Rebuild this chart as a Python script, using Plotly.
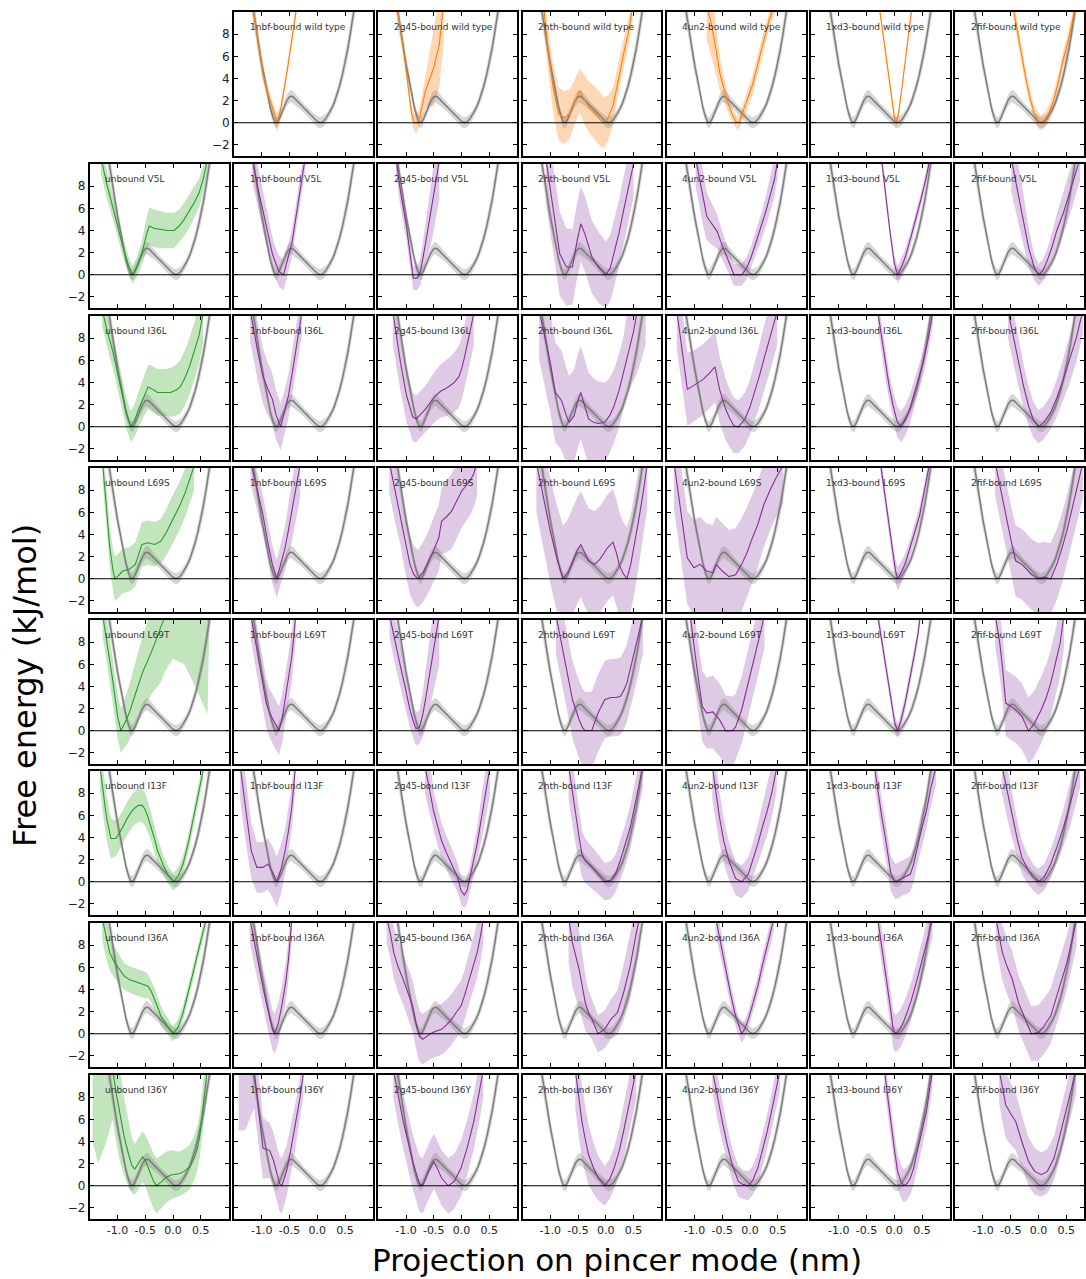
import plotly.graph_objects as go

# ---------------- data ----------------
COMPLEXES = ["unbound", "1nbf-bound", "2g45-bound", "2hth-bound", "4un2-bound", "1xd3-bound", "2fif-bound"]
VARIANTS = ["wild type", "V5L", "I36L", "L69S", "L69T", "I13F", "I36A", "I36Y"]

X_TICKS = [-1.0, -0.5, 0.0, 0.5]
X_TICKTEXT = ["-1.0", "-0.5", "0.0", "0.5"]
Y_TICKS = [-2, 0, 2, 4, 6, 8]

# reference: unbound wild type (grey)
REF_X = [-1.18, -1.15, -1.10, -1.05, -1.00, -0.95, -0.90, -0.85, -0.80, -0.76, -0.72, -0.68, -0.64, -0.60,
         -0.55, -0.50, -0.47, -0.44, -0.40, -0.35, -0.30, -0.25, -0.20, -0.15, -0.10, -0.05, 0.00, 0.05,
         0.10, 0.15, 0.20, 0.25, 0.30, 0.35, 0.40, 0.45, 0.50, 0.55, 0.60, 0.65, 0.70]
REF_Y = [11.0, 10.0, 8.3, 6.8, 5.3, 4.0, 2.6, 1.4, 0.5, 0.05, 0.05, 0.4, 0.9, 1.4,
         2.0, 2.35, 2.4, 2.35, 2.15, 1.85, 1.6, 1.35, 1.1, 0.85, 0.6, 0.35, 0.12, 0.0,
         0.1, 0.35, 0.75, 1.2, 1.75, 2.45, 3.3, 4.3, 5.4, 6.7, 8.2, 9.8, 11.5]
REF_E = [1.2, 1.1, 1.0, 0.9, 0.8, 0.7, 0.6, 0.5, 0.5, 0.5, 0.5, 0.5, 0.45, 0.45,
         0.5, 0.55, 0.55, 0.55, 0.5, 0.45, 0.4, 0.4, 0.4, 0.4, 0.4, 0.45, 0.5, 0.5,
         0.5, 0.45, 0.4, 0.4, 0.45, 0.5, 0.6, 0.7, 0.8, 0.9, 1.0, 1.1, 1.2]

# each entry: (projection values, free energy, half-width of the band)
WILD_TYPE = {
    "1nbf-bound": ([-1.16, -1.05, -0.98, -0.90, -0.82, -0.76, -0.72, -0.66, -0.60, -0.54, -0.48, -0.42, -0.37],
                   [10.5, 6.5, 4.4, 2.8, 1.5, 0.5, 0.0, 1.2, 2.9, 4.8, 6.8, 8.8, 10.5],
                   [0.8, 0.8, 0.7, 0.6, 0.6, 0.7, 0.8, 0.6, 0.5, 0.5, 0.5, 0.5, 0.5]),
    "2g45-bound": ([-1.16, -1.05, -0.95, -0.90, -0.85, -0.80, -0.75, -0.65, -0.57, -0.50, -0.40, -0.35, -0.32],
                   [10.5, 6.8, 2.8, 0.8, 0.0, 0.0, 0.6, 2.9, 4.0, 5.0, 7.1, 9.8, 11.0],
                   [0.6, 0.6, 0.6, 0.7, 0.8, 0.8, 0.8, 1.5, 2.5, 3.5, 4.0, 4.0, 4.0]),
    "2hth-bound": ([-1.12, -1.05, -0.95, -0.85, -0.75, -0.65, -0.55, -0.47, -0.40, -0.30, -0.20, -0.10, -0.03,
                    0.05, 0.14, 0.24, 0.32, 0.40, 0.48],
                   [10.5, 7.0, 3.2, 0.8, 0.45, 0.8, 2.0, 2.9, 2.2, 1.4, 0.9, 0.3, 0.0,
                    0.5, 1.7, 4.4, 6.2, 8.0, 10.3],
                   [1.5, 1.8, 2.2, 2.4, 2.4, 2.2, 2.0, 2.0, 2.2, 2.3, 2.4, 2.4, 2.3,
                    2.0, 1.6, 1.4, 1.2, 1.2, 1.2]),
    "4un2-bound": ([-0.78, -0.70, -0.64, -0.54, -0.46, -0.39, -0.31, -0.25, -0.20, -0.10, 0.05, 0.20, 0.34, 0.45],
                   [10.5, 9.0, 7.4, 4.4, 2.9, 1.7, 0.6, 0.1, 0.0, 1.4, 3.5, 6.5, 9.2, 10.8],
                   [3.0, 3.0, 2.5, 1.5, 1.0, 0.8, 0.6, 0.6, 0.6, 0.8, 0.9, 0.9, 0.9, 0.9]),
    "1xd3-bound": ([-0.27, -0.20, -0.13, -0.06, 0.0, 0.03, 0.07, 0.13, 0.20, 0.27, 0.32],
                   [10.5, 8.0, 5.3, 2.6, 0.6, 0.0, 0.6, 2.8, 5.6, 8.5, 10.5],
                   [0.4, 0.4, 0.4, 0.4, 0.45, 0.45, 0.45, 0.4, 0.4, 0.4, 0.4]),
    "2fif-bound": ([-0.46, -0.38, -0.30, -0.22, -0.15, -0.08, 0.0, 0.05, 0.12, 0.20, 0.27, 0.35, 0.44, 0.54, 0.66],
                   [10.5, 8.2, 5.9, 3.8, 2.2, 0.9, 0.15, 0.0, 0.3, 1.0, 2.0, 3.5, 5.6, 7.5, 10.3],
                   [0.8, 0.8, 0.8, 0.75, 0.7, 0.7, 0.7, 0.7, 0.7, 0.7, 0.7, 0.75, 0.8, 0.8, 0.8]),
}

V5L = {
    "unbound": ([-1.30, -1.20, -1.06, -0.91, -0.80, -0.73, -0.65, -0.56, -0.48, -0.43, -0.35, -0.25, -0.10, 0.02,
                 0.11, 0.20, 0.29, 0.38, 0.47, 0.55, 0.62],
                [10.6, 8.3, 5.6, 2.6, 0.8, 0.0, 0.7, 2.0, 3.6, 4.4, 4.2, 4.1, 4.0, 4.0,
                 4.4, 5.0, 5.7, 6.5, 7.4, 8.8, 10.4],
                [1.5, 1.3, 1.0, 0.9, 0.8, 0.8, 0.9, 1.1, 1.5, 1.7, 1.7, 1.7, 1.6, 1.6,
                 1.5, 1.5, 1.5, 1.4, 1.3, 1.2, 1.2]),
    "1nbf-bound": ([-1.17, -1.08, -0.98, -0.89, -0.81, -0.74, -0.69, -0.61, -0.54, -0.46, -0.40, -0.35, -0.29, -0.22],
                   [10.5, 8.0, 5.8, 3.6, 1.9, 0.9, 0.3, 0.0, 1.2, 2.8, 4.7, 6.4, 8.2, 10.5],
                   [2.2, 2.0, 1.8, 1.6, 1.5, 1.4, 1.4, 1.4, 1.3, 1.2, 1.2, 1.2, 1.2, 1.2]),
    "2g45-bound": ([-1.18, -1.10, -0.99, -0.91, -0.87, -0.80, -0.74, -0.65, -0.59, -0.53, -0.47, -0.40],
                   [10.5, 7.5, 4.3, 1.3, -0.3, -0.3, 0.3, 2.8, 4.6, 6.4, 8.2, 10.3],
                   [1.5, 1.4, 1.3, 1.2, 1.1, 1.1, 1.2, 1.8, 2.6, 3.2, 3.5, 3.5]),
    "2hth-bound": ([-1.08, -0.94, -0.83, -0.71, -0.60, -0.52, -0.45, -0.37, -0.25, -0.12, 0.0, 0.08, 0.15,
                    0.24, 0.32, 0.41, 0.50],
                   [10.5, 5.8, 1.9, 0.7, 0.7, 3.0, 4.6, 3.6, 1.6, 0.6, 0.0, 0.6, 1.9,
                    3.8, 5.8, 7.8, 10.0],
                   [4.0, 4.0, 3.8, 3.5, 3.4, 3.4, 3.4, 3.4, 3.3, 3.2, 3.0, 3.0, 3.0,
                    3.0, 3.0, 3.0, 3.0]),
    "4un2-bound": ([-0.98, -0.90, -0.84, -0.78, -0.73, -0.66, -0.59, -0.52, -0.44, -0.36, -0.29, -0.22, -0.15,
                    -0.06, 0.02, 0.10, 0.20, 0.29, 0.37, 0.44, 0.50],
                   [10.5, 8.5, 6.7, 5.3, 4.9, 4.4, 3.9, 2.9, 1.9, 0.9, 0.0, 0.0, 0.0,
                    0.6, 1.6, 2.8, 4.3, 5.8, 7.3, 8.6, 10.4],
                   [2.5, 2.5, 2.4, 2.2, 2.0, 1.8, 1.5, 1.3, 1.1, 1.0, 1.0, 1.0, 1.0,
                    1.0, 1.0, 1.1, 1.2, 1.4, 1.5, 1.6, 1.6]),
    "1xd3-bound": ([-0.23, -0.15, -0.08, 0.0, 0.06, 0.12, 0.20, 0.30, 0.40, 0.50, 0.58, 0.64],
                   [10.5, 7.0, 4.0, 1.1, 0.0, 0.6, 1.6, 3.4, 5.2, 7.2, 8.9, 10.4],
                   [0.6, 0.6, 0.6, 0.7, 0.8, 0.8, 0.7, 0.6, 0.6, 0.6, 0.6, 0.6]),
    "2fif-bound": ([-0.49, -0.40, -0.30, -0.18, -0.08, 0.0, 0.08, 0.16, 0.25, 0.33, 0.45, 0.56, 0.66, 0.75],
                   [10.5, 8.2, 5.8, 2.5, 0.7, 0.0, 0.4, 1.3, 2.6, 4.0, 5.6, 7.3, 8.9, 10.5],
                   [3.0, 2.8, 2.4, 1.8, 1.2, 1.0, 1.0, 1.1, 1.3, 1.5, 1.8, 2.0, 2.0, 2.0]),
}

I36L = {
    "unbound": ([-1.28, -1.18, -1.08, -0.99, -0.91, -0.84, -0.76, -0.69, -0.62, -0.53, -0.45, -0.37, -0.28,
                 -0.15, -0.05, 0.05, 0.13, 0.22, 0.30, 0.38, 0.47, 0.54],
                [10.6, 8.5, 6.7, 4.6, 2.8, 1.2, 0.0, 0.6, 1.6, 2.7, 3.6, 3.4, 3.1,
                 3.1, 3.1, 3.3, 3.6, 4.5, 5.5, 6.8, 8.3, 10.2],
                [1.5, 1.5, 1.5, 1.4, 1.4, 1.4, 1.4, 1.5, 1.6, 1.8, 2.0, 2.1, 2.1,
                 2.1, 2.2, 2.3, 2.4, 2.5, 2.6, 2.6, 2.6, 2.6]),
    "1nbf-bound": ([-1.21, -1.14, -1.07, -0.98, -0.90, -0.81, -0.74, -0.66, -0.59, -0.52, -0.46, -0.40, -0.34, -0.28],
                   [10.5, 8.5, 6.7, 4.6, 3.5, 2.5, 1.0, 0.0, 1.3, 2.8, 4.6, 6.4, 8.3, 10.3],
                   [2.8, 2.7, 2.6, 2.5, 2.4, 2.3, 2.2, 2.1, 2.0, 2.0, 2.0, 2.0, 2.0, 2.0]),
    "2g45-bound": ([-1.24, -1.17, -1.10, -0.99, -0.88, -0.82, -0.74, -0.65, -0.56, -0.47, -0.38, -0.30, -0.21,
                    -0.13, -0.05, 0.0, 0.05, 0.10, 0.16, 0.22],
                   [10.5, 8.2, 5.8, 2.8, 0.9, 0.7, 1.1, 1.6, 2.2, 2.8, 3.2, 3.4, 3.7,
                    4.0, 4.5, 5.2, 6.2, 7.3, 8.6, 10.2],
                   [3.0, 2.8, 2.6, 2.4, 2.2, 2.1, 2.1, 2.1, 2.2, 2.3, 2.4, 2.5, 2.6,
                    2.7, 2.8, 2.8, 2.8, 2.8, 2.8, 2.8]),
    "2hth-bound": ([-1.20, -1.10, -1.00, -0.91, -0.80, -0.71, -0.66, -0.57, -0.50, -0.45, -0.38, -0.31, -0.22,
                    -0.14, -0.02, 0.07, 0.15, 0.24, 0.32, 0.41, 0.50, 0.56, 0.64, 0.72],
                   [10.5, 8.0, 5.8, 3.1, 2.4, 1.0, 0.4, 1.0, 2.4, 3.1, 1.8, 0.7, 0.4,
                    0.3, 0.4, 1.0, 1.9, 3.3, 4.9, 6.8, 8.6, 10.3, 12.5, 15.0],
                   [4.5, 4.5, 4.5, 4.5, 4.5, 4.3, 4.2, 4.2, 4.2, 4.2, 4.2, 4.2, 4.0,
                    3.8, 3.6, 3.4, 3.3, 3.3, 3.3, 3.6, 4.5, 5.5, 6.5, 7.5]),
    "4un2-bound": ([-1.32, -1.25, -1.19, -1.13, -1.05, -0.95, -0.84, -0.74, -0.67, -0.63, -0.55, -0.44, -0.36,
                    -0.29, -0.21, -0.09, 0.0, 0.08, 0.17, 0.25, 0.34, 0.43, 0.49],
                   [10.5, 8.0, 5.8, 3.4, 3.6, 3.9, 4.3, 4.8, 5.2, 5.4, 3.4, 1.6, 0.7,
                    0.1, 0.0, 0.7, 1.8, 3.1, 4.6, 6.1, 7.7, 9.2, 10.4],
                   [3.5, 3.5, 3.4, 3.3, 3.2, 3.2, 3.2, 3.2, 3.2, 3.2, 3.0, 2.8, 2.6,
                    2.5, 2.4, 2.4, 2.5, 2.6, 2.8, 3.0, 3.0, 3.0, 3.0]),
    "1xd3-bound": ([-0.30, -0.23, -0.17, -0.09, -0.02, 0.05, 0.12, 0.20, 0.28, 0.35, 0.44, 0.52, 0.61, 0.70],
                   [10.5, 8.2, 5.8, 3.6, 1.9, 0.5, 0.0, 0.6, 1.6, 2.8, 4.3, 5.8, 7.9, 10.5],
                   [1.2, 1.2, 1.2, 1.2, 1.3, 1.4, 1.4, 1.4, 1.3, 1.2, 1.2, 1.2, 1.2, 1.2]),
    "2fif-bound": ([-0.55, -0.45, -0.36, -0.27, -0.18, -0.09, 0.0, 0.10, 0.22, 0.33, 0.45, 0.56, 0.68, 0.80],
                   [10.5, 8.0, 5.8, 3.7, 1.9, 0.6, 0.0, 0.4, 1.3, 2.6, 4.3, 6.0, 8.0, 10.5],
                   [2.5, 2.4, 2.2, 2.0, 1.8, 1.6, 1.5, 1.5, 1.5, 1.7, 1.9, 2.1, 2.2, 2.2]),
}

L69S = {
    "unbound": ([-1.27, -1.20, -1.14, -1.08, -1.05, -0.98, -0.91, -0.79, -0.68, -0.62, -0.56, -0.45, -0.33,
                 -0.22, -0.13, -0.05, 0.04, 0.13, 0.22, 0.30, 0.38],
                [10.5, 6.5, 2.8, 0.7, 0.0, 0.3, 0.7, 0.85, 1.3, 2.2, 3.1, 3.25, 3.1,
                 3.4, 4.1, 4.9, 5.8, 6.7, 7.8, 8.9, 10.2],
                [1.8, 1.8, 1.8, 1.9, 2.0, 2.0, 2.0, 2.0, 2.0, 2.0, 2.0, 2.0, 2.0,
                 2.0, 2.1, 2.2, 2.2, 2.2, 2.2, 2.2, 2.2]),
    "1nbf-bound": ([-1.20, -1.09, -0.98, -0.90, -0.81, -0.73, -0.66, -0.58, -0.52, -0.46, -0.39, -0.31],
                   [10.5, 8.0, 5.8, 3.5, 1.3, 0.0, 1.3, 2.8, 4.4, 6.1, 8.1, 10.3],
                   [2.0, 1.8, 1.7, 1.7, 1.7, 1.7, 1.8, 2.0, 2.4, 2.8, 3.0, 3.0]),
    "2g45-bound": ([-1.30, -1.20, -1.10, -1.02, -0.93, -0.86, -0.79, -0.69, -0.59, -0.50, -0.41, -0.36, -0.27,
                    -0.18, -0.09, 0.0, 0.08, 0.16, 0.22, 0.28],
                   [10.5, 8.0, 5.8, 3.5, 1.3, 0.4, 0.0, 0.6, 1.6, 2.6, 3.7, 5.2, 5.6,
                    6.1, 7.0, 7.9, 8.4, 8.9, 9.5, 10.5],
                   [2.8, 2.8, 2.8, 2.8, 2.7, 2.6, 2.6, 2.7, 2.8, 2.9, 3.0, 3.0, 3.2,
                    3.4, 3.4, 3.3, 3.2, 3.1, 3.0, 3.0]),
    "2hth-bound": ([-1.25, -1.12, -1.00, -0.88, -0.77, -0.68, -0.60, -0.52, -0.45, -0.38, -0.31, -0.20, -0.10,
                    0.03, 0.13, 0.20, 0.24, 0.31, 0.38, 0.45, 0.52, 0.60, 0.68, 0.75],
                   [10.5, 7.2, 4.3, 1.8, 0.0, 0.6, 1.5, 2.5, 3.1, 2.3, 1.6, 1.3, 1.8,
                    2.8, 3.3, 2.2, 1.3, 0.5, 0.0, 1.3, 3.2, 5.5, 8.0, 10.5],
                   [4.5, 4.6, 4.7, 4.8, 4.8, 4.8, 4.8, 4.8, 4.8, 4.8, 4.8, 4.8, 4.8,
                    4.8, 4.8, 4.8, 4.8, 4.7, 4.6, 4.5, 4.4, 4.2, 4.0, 4.0]),
    "4un2-bound": ([-1.37, -1.30, -1.24, -1.18, -1.13, -1.01, -0.90, -0.78, -0.67, -0.61, -0.50, -0.38, -0.26,
                    -0.15, -0.05, 0.02, 0.14, 0.25, 0.37, 0.48, 0.60],
                   [10.5, 8.0, 5.8, 3.8, 1.9, 1.0, 1.3, 0.7, 0.55, 1.3, 0.7, 0.2, 0.35,
                    1.3, 2.4, 3.4, 4.9, 6.7, 8.1, 9.2, 10.3],
                   [4.2, 4.2, 4.2, 4.2, 4.2, 4.3, 4.3, 4.3, 4.3, 4.3, 4.3, 4.2, 4.2,
                    4.2, 4.1, 4.0, 3.9, 3.8, 3.6, 3.5, 3.5]),
    "1xd3-bound": ([-0.25, -0.17, -0.10, -0.03, 0.02, 0.06, 0.12, 0.20, 0.30, 0.38, 0.46, 0.55, 0.64],
                   [10.5, 7.5, 4.8, 2.4, 0.8, 0.0, 0.5, 1.4, 3.0, 4.4, 5.8, 8.0, 10.5],
                   [0.8, 0.8, 0.8, 0.9, 1.0, 1.1, 1.0, 0.9, 0.8, 0.8, 0.8, 0.8, 0.8]),
    "2fif-bound": ([-0.78, -0.68, -0.59, -0.50, -0.41, -0.30, -0.20, -0.13, 0.0, 0.10, 0.22, 0.33, 0.42, 0.51,
                    0.60, 0.68, 0.80],
                   [10.5, 8.0, 5.8, 3.6, 1.6, 1.3, 0.8, 0.4, 0.0, 0.15, 0.0, 1.3, 2.7, 4.3,
                    6.2, 8.0, 10.5],
                   [3.0, 3.0, 3.0, 3.1, 3.2, 3.2, 3.2, 3.2, 3.2, 3.2, 3.2, 3.2, 3.2, 3.2,
                    3.2, 3.2, 3.2]),
}

L69T = {
    "unbound": ([-1.27, -1.17, -1.08, -1.00, -0.94, -0.86, -0.79, -0.70, -0.62, -0.54, -0.45, -0.36, -0.28,
                 -0.22, -0.15, 0.0, 0.20, 0.40, 0.62, 0.66],
                [10.5, 7.4, 4.3, 1.3, 0.0, 0.8, 1.6, 3.0, 4.3, 5.4, 6.4, 7.5, 8.5,
                 9.4, 10.3, 12.0, 13.0, 14.0, 15.0, 16.0],
                [2.0, 2.0, 2.0, 2.0, 2.0, 2.2, 2.5, 2.8, 3.0, 3.3, 3.6, 4.0, 4.5,
                 5.0, 5.0, 5.5, 7.0, 10.0, 13.5, 5.0]),
    "1nbf-bound": ([-1.20, -1.12, -1.04, -0.96, -0.92, -0.86, -0.75, -0.69, -0.63, -0.58, -0.52, -0.46, -0.39],
                   [10.5, 8.2, 5.8, 3.6, 2.5, 1.6, 0.5, 0.0, 1.2, 2.8, 4.6, 6.7, 10.3],
                   [2.2, 2.2, 2.2, 2.2, 2.2, 2.2, 2.2, 2.2, 2.2, 2.2, 2.2, 2.2, 2.2]),
    "2g45-bound": ([-1.30, -1.20, -1.10, -1.01, -0.93, -0.86, -0.82, -0.76, -0.70, -0.65, -0.59, -0.53, -0.47, -0.40],
                   [10.5, 8.0, 5.8, 3.8, 1.9, 0.7, 0.2, 0.3, 1.4, 2.8, 4.7, 6.7, 8.5, 10.5],
                   [2.0, 2.0, 2.0, 1.8, 1.6, 1.5, 1.5, 1.5, 2.0, 2.6, 3.2, 3.8, 4.2, 4.5]),
    "2hth-bound": ([-0.90, -0.80, -0.71, -0.60, -0.48, -0.42, -0.37, -0.25, -0.14, -0.02, 0.09, 0.18, 0.26,
                    0.32, 0.38, 0.44, 0.50, 0.56, 0.61, 0.67],
                   [10.5, 8.0, 5.8, 2.8, 1.0, 0.3, 0.0, 0.05, 1.6, 2.8, 3.0, 3.0, 3.1,
                    3.6, 4.3, 5.5, 6.7, 8.0, 9.1, 10.5],
                   [3.5, 3.5, 3.5, 3.5, 3.5, 3.5, 3.5, 3.5, 3.5, 3.5, 3.5, 3.5, 3.5,
                    3.5, 3.5, 3.5, 3.5, 3.5, 3.5, 3.5]),
    "4un2-bound": ([-1.08, -1.02, -0.96, -0.90, -0.86, -0.78, -0.67, -0.55, -0.44, -0.32, -0.26, -0.15, -0.09,
                    -0.03, 0.03, 0.08, 0.14, 0.20, 0.26],
                   [10.5, 8.0, 5.8, 3.6, 2.2, 1.6, 1.7, 1.0, 0.0, 0.0, 0.35, 1.9, 3.1,
                    4.3, 5.5, 6.7, 7.9, 9.1, 10.5],
                   [3.2, 3.2, 3.2, 3.2, 3.2, 3.2, 3.3, 3.3, 3.2, 3.1, 3.0, 3.0, 3.0,
                    3.0, 3.0, 3.0, 3.0, 3.0, 3.0]),
    "1xd3-bound": ([-0.30, -0.22, -0.14, -0.06, 0.01, 0.06, 0.12, 0.20, 0.28, 0.36, 0.43, 0.47],
                   [10.5, 8.0, 5.4, 2.8, 0.7, 0.0, 0.9, 2.6, 4.6, 6.8, 8.8, 10.5],
                   [0.7, 0.7, 0.7, 0.7, 0.7, 0.7, 0.7, 0.7, 0.7, 0.7, 0.7, 0.7]),
    "2fif-bound": ([-0.78, -0.70, -0.65, -0.59, -0.50, -0.41, -0.30, -0.22, -0.18, -0.08, 0.05, 0.14, 0.22,
                    0.30, 0.39, 0.46],
                   [10.5, 8.0, 5.8, 2.5, 2.2, 1.9, 1.3, 0.5, 0.0, 0.6, 1.9, 3.0, 4.3,
                    6.0, 7.9, 10.5],
                   [3.0, 3.0, 3.0, 3.0, 3.0, 3.0, 3.0, 3.0, 3.0, 3.0, 3.0, 3.0, 3.0,
                    3.0, 3.0, 3.0]),
}

I13F = {
    "unbound": ([-1.32, -1.26, -1.20, -1.12, -1.03, -0.97, -0.91, -0.83, -0.74, -0.68, -0.62, -0.56, -0.51,
                 -0.45, -0.39, -0.33, -0.28, -0.22, -0.16, -0.08, 0.01, 0.09, 0.18, 0.27, 0.36, 0.45, 0.54],
                [10.5, 8.0, 5.8, 3.9, 3.9, 4.4, 4.9, 5.7, 6.4, 6.7, 6.9, 6.9, 6.6,
                 5.8, 4.9, 3.8, 2.8, 2.0, 1.3, 0.5, 0.0, 0.5, 1.6, 3.4, 5.5, 7.6, 10.0],
                [2.0, 2.0, 2.0, 1.8, 1.6, 1.5, 1.5, 1.5, 1.5, 1.5, 1.5, 1.5, 1.5,
                 1.4, 1.3, 1.2, 1.1, 1.0, 0.9, 0.8, 0.8, 0.8, 0.8, 0.8, 0.8, 0.8, 0.8]),
    "1nbf-bound": ([-1.39, -1.33, -1.27, -1.19, -1.09, -0.98, -0.89, -0.81, -0.73, -0.65, -0.58, -0.52, -0.46, -0.40],
                   [10.5, 8.0, 5.8, 2.8, 1.3, 1.3, 1.6, 0.9, 0.0, 1.2, 2.8, 4.6, 6.7, 10.0],
                   [3.0, 3.0, 2.8, 2.5, 2.3, 2.3, 2.3, 2.3, 2.3, 2.2, 2.0, 2.0, 2.0, 2.0]),
    "2g45-bound": ([-0.66, -0.58, -0.53, -0.50, -0.43, -0.36, -0.27, -0.18, -0.07, -0.01, 0.05, 0.10, 0.16,
                    0.22, 0.28, 0.33, 0.39, 0.45, 0.51],
                   [10.5, 8.5, 7.3, 6.3, 5.0, 3.7, 2.6, 1.6, 0.4, -0.8, -1.2, -0.8, 0.5,
                    1.9, 3.4, 4.9, 6.7, 8.6, 10.3],
                   [2.5, 2.3, 2.0, 1.8, 1.7, 1.6, 1.5, 1.5, 1.3, 1.2, 1.2, 1.2, 1.2,
                    1.3, 1.5, 1.8, 2.2, 2.5, 2.5]),
    "2hth-bound": ([-0.67, -0.60, -0.54, -0.48, -0.43, -0.37, -0.25, -0.14, -0.02, 0.09, 0.18, 0.26, 0.35,
                    0.44, 0.52, 0.61, 0.67],
                   [10.5, 8.0, 5.8, 4.0, 2.5, 1.9, 1.3, 0.7, 0.0, 0.15, 0.8, 1.9, 3.3,
                    4.9, 6.8, 9.1, 10.5],
                   [3.0, 2.8, 2.6, 2.3, 2.1, 2.0, 1.9, 1.8, 1.7, 1.7, 1.7, 1.8, 1.9,
                    2.0, 2.0, 2.0, 2.0]),
    "4un2-bound": ([-0.68, -0.61, -0.55, -0.47, -0.38, -0.26, -0.15, -0.03, 0.05, 0.14, 0.22, 0.31, 0.40, 0.48],
                   [10.5, 8.0, 5.8, 3.6, 1.9, 0.3, 0.0, 0.7, 1.9, 3.4, 4.9, 6.4, 8.2, 10.3],
                   [3.0, 2.7, 2.4, 2.0, 1.7, 1.5, 1.5, 1.5, 1.6, 1.8, 2.0, 2.2, 2.2, 2.2]),
    "1xd3-bound": ([-0.36, -0.29, -0.22, -0.17, -0.11, -0.06, 0.02, 0.10, 0.17, 0.23, 0.29, 0.35, 0.40,
                    0.48, 0.58, 0.66, 0.75],
                   [10.5, 8.0, 5.7, 4.3, 2.4, 0.7, 0.0, 0.2, 0.4, 0.5, 0.7, 1.6, 2.8,
                    4.5, 6.4, 8.5, 10.3],
                   [1.6, 1.6, 1.6, 1.6, 1.6, 1.6, 1.6, 1.6, 1.6, 1.6, 1.6, 1.6, 1.6,
                    1.6, 1.6, 1.6, 1.6]),
    "2fif-bound": ([-0.66, -0.56, -0.47, -0.38, -0.30, -0.18, -0.08, 0.0, 0.10, 0.22, 0.33, 0.45, 0.56, 0.68, 0.75],
                   [10.5, 8.0, 5.8, 3.8, 2.2, 1.0, 0.3, 0.0, 0.4, 1.6, 3.1, 4.9, 6.8, 9.1, 10.5],
                   [2.5, 2.3, 2.0, 1.7, 1.5, 1.3, 1.2, 1.2, 1.2, 1.3, 1.5, 1.7, 2.0, 2.0, 2.0]),
}

I36A = {
    "unbound": ([-1.28, -1.20, -1.14, -1.05, -0.97, -0.88, -0.79, -0.68, -0.56, -0.50, -0.45, -0.39, -0.33,
                 -0.27, -0.22, -0.16, -0.10, -0.05, 0.0, 0.09, 0.18, 0.27, 0.36, 0.44, 0.52, 0.60],
                [10.5, 8.5, 7.3, 6.4, 5.8, 5.2, 4.9, 4.7, 4.5, 4.4, 4.3, 3.8, 3.1,
                 2.3, 1.6, 1.1, 0.7, 0.3, 0.0, 0.6, 1.9, 3.6, 5.5, 7.2, 8.9, 10.4],
                [2.0, 1.8, 1.6, 1.4, 1.3, 1.2, 1.2, 1.2, 1.2, 1.2, 1.1, 1.0, 1.0,
                 0.9, 0.9, 0.8, 0.8, 0.7, 0.7, 0.7, 0.7, 0.7, 0.7, 0.7, 0.7, 0.7]),
    "1nbf-bound": ([-1.22, -1.13, -1.04, -0.98, -0.92, -0.86, -0.81, -0.77, -0.70, -0.63, -0.57, -0.52, -0.46],
                   [10.5, 8.0, 5.8, 4.2, 2.8, 1.4, 0.4, 0.0, 1.0, 2.8, 4.6, 6.7, 10.3],
                   [2.2, 2.0, 1.8, 1.8, 1.8, 1.8, 1.8, 1.8, 1.8, 1.8, 1.8, 1.8, 1.8]),
    "2g45-bound": ([-1.35, -1.28, -1.22, -1.14, -1.05, -0.96, -0.88, -0.82, -0.76, -0.70, -0.62, -0.53, -0.45,
                    -0.36, -0.27, -0.18, -0.10, -0.01, 0.05, 0.10, 0.18, 0.28, 0.34, 0.39],
                   [10.5, 9.0, 7.3, 6.0, 4.9, 3.7, 2.5, 1.0, -0.2, -0.5, -0.2, 0.1, 0.25,
                    0.4, 0.8, 1.3, 1.9, 2.5, 3.4, 4.3, 5.7, 7.3, 8.8, 10.3],
                   [2.3, 2.3, 2.3, 2.3, 2.3, 2.3, 2.3, 2.3, 2.3, 2.3, 2.3, 2.3, 2.3,
                    2.3, 2.3, 2.3, 2.3, 2.3, 2.3, 2.3, 2.3, 2.3, 2.3, 2.3]),
    "2hth-bound": ([-0.67, -0.60, -0.54, -0.48, -0.42, -0.37, -0.31, -0.25, -0.14, -0.02, 0.09, 0.21, 0.32,
                    0.44, 0.55, 0.61],
                   [10.5, 8.2, 7.0, 5.8, 4.2, 2.8, 1.9, 1.3, 0.0, 0.4, 1.3, 1.9, 3.7,
                    6.1, 9.1, 10.5],
                   [4.0, 4.0, 3.8, 3.5, 3.0, 2.5, 2.0, 1.8, 1.7, 1.7, 1.8, 2.0, 2.5,
                    3.0, 3.0, 3.0]),
    "4un2-bound": ([-0.62, -0.53, -0.44, -0.35, -0.26, -0.20, -0.15, -0.09, -0.03, 0.05, 0.14, 0.22, 0.31, 0.38, 0.43],
                   [10.5, 8.2, 5.8, 3.6, 1.6, 0.6, 0.0, 0.5, 1.3, 2.7, 4.3, 6.1, 7.9, 9.2, 10.4],
                   [1.5, 1.3, 1.2, 1.0, 0.9, 0.8, 0.8, 0.8, 0.8, 0.8, 0.9, 1.0, 1.0, 1.0, 1.0]),
    "1xd3-bound": ([-0.30, -0.22, -0.12, -0.06, -0.02, 0.02, 0.10, 0.17, 0.23, 0.30, 0.38, 0.46, 0.55, 0.63, 0.69],
                   [10.5, 7.8, 4.3, 2.0, 0.4, 0.0, 0.4, 1.1, 1.9, 2.9, 4.3, 5.8, 7.5, 9.1, 10.5],
                   [1.7, 1.7, 1.7, 1.7, 1.7, 1.7, 1.7, 1.7, 1.7, 1.7, 1.7, 1.7, 1.7, 1.7, 1.7]),
    "2fif-bound": ([-0.77, -0.70, -0.65, -0.56, -0.47, -0.36, -0.24, -0.13, 0.0, 0.10, 0.22, 0.33, 0.42, 0.51, 0.60, 0.69],
                   [10.5, 8.5, 7.3, 6.0, 4.9, 2.8, 1.3, 0.0, 0.1, 0.7, 1.6, 3.4, 4.9, 6.4, 8.3, 10.5],
                   [2.5, 2.5, 2.5, 2.5, 2.5, 2.5, 2.5, 2.5, 2.5, 2.5, 2.5, 2.5, 2.5, 2.5, 2.5, 2.5]),
}

I36Y = {
    "unbound": ([-1.45, -1.35, -1.20, -1.09, -1.02, -0.95, -0.88, -0.80, -0.74, -0.69, -0.62, -0.55, -0.50, -0.45,
                 -0.40, -0.35, -0.30, -0.22, -0.12, -0.02, 0.05, 0.12, 0.20, 0.30, 0.38, 0.44, 0.48, 0.53,
                 0.57, 0.61],
                [18.0, 16.0, 13.0, 10.5, 8.2, 6.2, 4.4, 2.8, 1.8, 1.5, 2.0, 2.6, 2.3, 1.6,
                 1.0, 0.4, 0.0, 0.3, 0.8, 1.0, 1.05, 1.1, 1.3, 1.7, 2.5, 3.4, 4.5, 6.5,
                 8.3, 10.2],
                [14.0, 14.0, 9.0, 4.5, 4.5, 4.2, 3.5, 3.0, 2.5, 2.3, 2.3, 2.3, 2.3, 2.4,
                 2.5, 2.5, 2.5, 2.4, 2.3, 2.2, 2.1, 2.0, 2.0, 2.0, 2.0, 2.0, 2.0, 2.0,
                 2.0, 2.0]),
    "1nbf-bound": ([-1.42, -1.30, -1.14, -1.08, -1.03, -0.98, -0.92, -0.86, -0.79, -0.72, -0.68, -0.64, -0.60,
                    -0.55, -0.48, -0.40, -0.35, -0.31, -0.25],
                   [18.0, 14.0, 10.5, 8.0, 5.5, 3.4, 3.3, 3.2, 2.3, 1.0, 0.2, 0.0, 0.6,
                    1.4, 3.2, 5.3, 6.6, 8.0, 10.2],
                   [13.0, 9.0, 3.5, 3.3, 3.0, 2.8, 2.6, 2.5, 2.5, 2.5, 2.5, 2.5, 2.4,
                    2.3, 2.2, 2.1, 2.0, 2.0, 2.0]),
    "2g45-bound": ([-1.23, -1.14, -1.05, -0.96, -0.88, -0.76, -0.70, -0.59, -0.50, -0.43, -0.36, -0.24, -0.13,
                    -0.01, 0.10, 0.22, 0.33, 0.39],
                   [10.5, 8.0, 5.8, 3.9, 2.2, 0.2, 0.0, 1.3, 2.2, 1.5, 0.7, 0.0, 0.4,
                    1.6, 3.4, 5.8, 8.6, 10.4],
                   [2.5, 2.5, 2.5, 2.5, 2.5, 2.5, 2.5, 2.5, 2.5, 2.5, 2.5, 2.5, 2.5,
                    2.5, 2.5, 2.5, 2.5, 2.5]),
    "2hth-bound": ([-0.55, -0.49, -0.43, -0.37, -0.31, -0.22, -0.14, -0.02, 0.07, 0.15, 0.24, 0.32, 0.41, 0.50, 0.55],
                   [10.5, 8.0, 5.8, 4.2, 2.8, 1.6, 0.7, 0.0, 0.6, 1.6, 3.1, 4.9, 7.2, 9.2, 10.5],
                   [3.5, 3.5, 3.3, 3.0, 2.7, 2.3, 2.0, 1.8, 1.8, 1.9, 2.1, 2.4, 2.6, 2.6, 2.6]),
    "4un2-bound": ([-0.68, -0.59, -0.50, -0.41, -0.32, -0.21, -0.12, -0.03, 0.05, 0.14, 0.22, 0.31, 0.40, 0.48, 0.54],
                   [10.5, 8.0, 5.8, 3.7, 1.9, 0.4, 0.1, 0.0, 0.5, 1.6, 3.1, 4.9, 7.0, 9.1, 10.4],
                   [2.0, 2.0, 1.8, 1.6, 1.5, 1.4, 1.3, 1.3, 1.3, 1.4, 1.5, 1.6, 1.7, 1.8, 1.8]),
    "1xd3-bound": ([-0.18, -0.12, -0.06, 0.0, 0.06, 0.12, 0.17, 0.23, 0.29, 0.35, 0.40, 0.49, 0.58, 0.64, 0.69],
                   [10.5, 8.0, 5.8, 3.4, 1.3, 0.4, 0.0, 0.2, 0.7, 1.6, 2.8, 4.7, 6.7, 8.8, 10.4],
                   [1.5, 1.5, 1.5, 1.5, 1.5, 1.5, 1.5, 1.5, 1.5, 1.5, 1.5, 1.5, 1.5, 1.5, 1.5]),
    "2fif-bound": ([-0.71, -0.65, -0.59, -0.50, -0.41, -0.30, -0.18, -0.07, 0.05, 0.16, 0.28, 0.36, 0.45, 0.54, 0.62, 0.68],
                   [10.5, 8.8, 7.3, 6.5, 5.8, 4.0, 2.2, 1.3, 1.0, 1.3, 2.5, 4.0, 5.8, 7.8, 9.2, 10.5],
                   [3.0, 3.0, 3.0, 2.8, 2.6, 2.4, 2.2, 2.1, 2.0, 2.0, 2.0, 2.1, 2.2, 2.2, 2.2, 2.2]),
}

ROWS = {"wild type": WILD_TYPE, "V5L": V5L, "I36L": I36L, "L69S": L69S,
        "L69T": L69T, "I13F": I13F, "I36A": I36A, "I36Y": I36Y}

# ---------------- layout ----------------
W, H = 1086, 1279
COL_LEFT = [90, 234.5, 379, 523.5, 668, 812.5, 957]
PANEL_W = 139
ROW_TOP = [12, 164, 316, 468, 620, 771, 923, 1075]
PANEL_H = 144
X_MIN, X_MAX = -1.5, 1.0
PX_PER_X = PANEL_W / (X_MAX - X_MIN)

STYLE = {
    "wt": ("rgb(255,128,0)", "rgba(255,140,40,0.35)"),
    "unbound": ("rgb(40,155,40)", "rgba(80,180,70,0.35)"),
    "bound": ("rgb(135,45,150)", "rgba(150,80,170,0.30)"),
}
REF_LINE = "rgb(125,125,125)"
REF_FILL = "rgba(130,130,130,0.33)"


def band(xs, ys, es):
    up = [y + e for y, e in zip(ys, es)]
    lo = [y - e for y, e in zip(ys, es)]
    return list(xs) + list(xs)[::-1], up + lo[::-1]


fig = go.Figure()
shapes, annotations = [], []
n = 0
for r, var in enumerate(VARIANTS):
    data = ROWS[var]
    for c, cx in enumerate(COMPLEXES):
        if cx not in data:
            continue
        xs, ys, es = data[cx]
        assert len(xs) == len(ys) == len(es), (var, cx)
        n += 1
        sfx = "" if n == 1 else str(n)
        xref, yref = "x" + sfx, "y" + sfx

        left = COL_LEFT[c]
        right = min(left + PANEL_W, W)
        xmax = X_MIN + (right - left) / PX_PER_X
        top = ROW_TOP[r]
        bottom = top + PANEL_H

        show_y = (c == 0) or (r == 0 and c == 1)
        show_x = (r == len(VARIANTS) - 1)

        fig.layout["xaxis" + sfx] = dict(
            domain=[left / W, right / W], range=[X_MIN, xmax], anchor=yref,
            showgrid=False, zeroline=False, showline=True, linecolor="black", linewidth=2,
            mirror="ticks", ticks="inside", ticklen=4, tickwidth=1, tickcolor="black",
            tickvals=X_TICKS, ticktext=X_TICKTEXT, showticklabels=show_x,
            tickfont=dict(family="DejaVu Sans", size=11, color="#222"), layer="above traces")
        fig.layout["yaxis" + sfx] = dict(
            domain=[1 - bottom / H, 1 - top / H], range=[-3, 10], anchor=xref,
            showgrid=False, zeroline=False, showline=True, linecolor="black", linewidth=2,
            mirror="ticks", ticks="inside", ticklen=4, tickwidth=1, tickcolor="black",
            tickvals=Y_TICKS, showticklabels=show_y,
            tickfont=dict(family="DejaVu Sans", size=12, color="#222"), layer="above traces")

        kind = "wt" if r == 0 else ("unbound" if c == 0 else "bound")
        lc, fc = STYLE[kind]

        bx, by = band(xs, ys, es)
        fig.add_trace(go.Scatter(x=bx, y=by, fill="toself", fillcolor=fc, line=dict(width=0),
                                 mode="lines", hoverinfo="skip", showlegend=False, xaxis=xref, yaxis=yref))
        rx, ry = band(REF_X, REF_Y, REF_E)
        fig.add_trace(go.Scatter(x=rx, y=ry, fill="toself", fillcolor=REF_FILL, line=dict(width=0),
                                 mode="lines", hoverinfo="skip", showlegend=False, xaxis=xref, yaxis=yref))
        fig.add_trace(go.Scatter(x=REF_X, y=REF_Y, mode="lines", line=dict(color=REF_LINE, width=1.5),
                                 showlegend=False, xaxis=xref, yaxis=yref))
        fig.add_trace(go.Scatter(x=xs, y=ys, mode="lines", line=dict(color=lc, width=1.1),
                                 showlegend=False, xaxis=xref, yaxis=yref))

        shapes.append(dict(type="line", xref=xref + " domain", yref=yref, x0=0, x1=1, y0=0, y1=0,
                           line=dict(color="black", width=1), layer="above"))
        annotations.append(dict(text=f"{cx} {var}",
                                xref=xref + " domain", yref=yref + " domain",
                                x=13.5 / (right - left), y=1 - 15 / PANEL_H,
                                xanchor="left", yanchor="middle", showarrow=False,
                                font=dict(family="DejaVu Sans", size=9, color="#333")))

annotations.append(dict(text="Free energy (kJ/mol)", xref="paper", yref="paper", x=25 / W, y=1 - 685 / H,
                        textangle=-90, showarrow=False, xanchor="center", yanchor="middle",
                        font=dict(family="DejaVu Sans", size=32, color="black")))
annotations.append(dict(text="Projection on pincer mode (nm)", xref="paper", yref="paper", x=618 / W,
                        y=0, showarrow=False, xanchor="center", yanchor="bottom", borderpad=0,
                        font=dict(family="DejaVu Sans", size=31, color="black")))

fig.update_layout(width=W, height=H, margin=dict(l=0, r=0, t=0, b=0),
                  paper_bgcolor="white", plot_bgcolor="white",
                  shapes=shapes, annotations=annotations, showlegend=False)

fig.write_html("out.html")
